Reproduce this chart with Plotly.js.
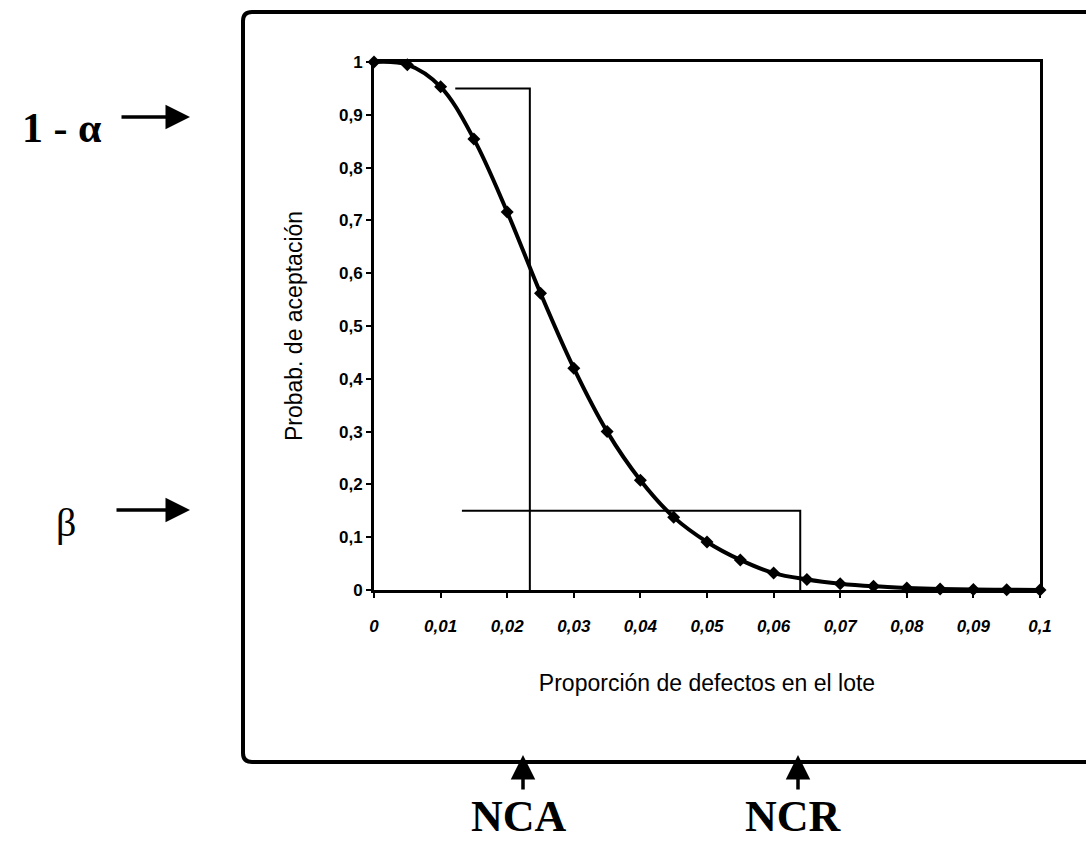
<!DOCTYPE html>
<html>
<head>
<meta charset="utf-8">
<script src="https://cdn.plot.ly/plotly-3.0.1.min.js"></script>
<style>
  html, body { margin: 0; padding: 0; background: #fff; }
  #chart { width: 1086px; height: 843px; }
</style>
</head>
<body>
<div id="chart"></div>
<script>
// Operating characteristic (OC) curve of a sampling plan
const defectFraction = [0, 0.005, 0.01, 0.015, 0.02, 0.025, 0.03, 0.035, 0.04, 0.045, 0.05,
                        0.055, 0.06, 0.065, 0.07, 0.075, 0.08, 0.085, 0.09, 0.095, 0.1];
const acceptProb     = [1, 0.995, 0.953, 0.854, 0.716, 0.562, 0.42, 0.30, 0.208, 0.138, 0.091,
                        0.057, 0.032, 0.02, 0.012, 0.007, 0.004, 0.002, 0.001, 0.0005, 0];

// Producer / consumer risk guides
const ncaGuideX = [0.0122, 0.0234, 0.0234];
const ncaGuideY = [0.95, 0.95, 0];
const ncrGuideX = [0.0132, 0.064, 0.064];
const ncrGuideY = [0.15, 0.15, 0];

const xTickVals = [0, 0.01, 0.02, 0.03, 0.04, 0.05, 0.06, 0.07, 0.08, 0.09, 0.1];
const yTickVals = [0, 0.1, 0.2, 0.3, 0.4, 0.5, 0.6, 0.7, 0.8, 0.9, 1];

// Plot-area geometry (pixels) used to place decorations outside the axes
const FIG_W = 1086, FIG_H = 843;
const L = 374, R = 1040, T = 62, B = 590;
const PW = R - L, PH = B - T;
const px = v => (v - L) / PW;
const py = v => (B - v) / PH;

const traces = [
  { x: ncaGuideX, y: ncaGuideY, type: 'scatter', mode: 'lines',
    line: { color: '#000', width: 2 }, hoverinfo: 'skip', cliponaxis: false },
  { x: ncrGuideX, y: ncrGuideY, type: 'scatter', mode: 'lines',
    line: { color: '#000', width: 2 }, hoverinfo: 'skip', cliponaxis: false },
  { x: defectFraction, y: acceptProb, type: 'scatter', mode: 'lines+markers',
    line: { color: '#000', width: 4, shape: 'spline', smoothing: 1 },
    marker: { symbol: 'diamond', size: 10, color: '#000' },
    cliponaxis: false }
];

const serif = 'Liberation Serif, DejaVu Serif, serif';
const sans = 'Liberation Sans, Arial, sans-serif';

// rounded outer frame (paper coordinates)
const fx0 = px(243), fx1 = px(1096), fy0 = py(12), fy1 = py(762);
const rx = 9 / PW, ry = 9 / PH;
const framePath =
  `M ${fx0 + rx} ${fy0} L ${fx1} ${fy0} M ${fx1} ${fy1} L ${fx0 + rx} ${fy1} ` +
  `Q ${fx0} ${fy1} ${fx0} ${fy1 + ry} L ${fx0} ${fy0 - ry} Q ${fx0} ${fy0} ${fx0 + rx} ${fy0}`;

function arrow(tipX, tipY, dx, dy) {
  return { xref: 'paper', yref: 'paper', x: px(tipX), y: py(tipY), text: '',
           showarrow: true, arrowhead: 2, arrowsize: 1.4, arrowwidth: 3.5,
           arrowcolor: '#000', ax: dx, ay: dy, standoff: 0 };
}
function label(cx, cy, text, size, weight) {
  return { xref: 'paper', yref: 'paper', x: px(cx), y: py(cy), text: text,
           xanchor: 'center', yanchor: 'middle', showarrow: false,
           font: { family: serif, size: size, color: '#000', weight: weight } };
}

const layout = {
  width: FIG_W, height: FIG_H,
  margin: { l: L, r: FIG_W - R, t: T, b: FIG_H - B, pad: 0 },
  paper_bgcolor: '#fff', plot_bgcolor: '#fff',
  showlegend: false,
  separators: ',.',
  xaxis: {
    range: [0, 0.1], tickvals: xTickVals, showgrid: false, zeroline: false,
    showline: true, linecolor: '#000', linewidth: 3, mirror: true,
    ticks: 'outside', ticklen: 5, tickwidth: 2, tickcolor: '#000',
    ticklabelstandoff: 14,
    tickfont: { family: sans, size: 17, color: '#000', weight: 'bold', style: 'italic' },
    title: { text: 'Proporción de defectos en el lote', standoff: 40,
             font: { family: sans, size: 23, color: '#000' } },
    automargin: false
  },
  yaxis: {
    range: [0, 1], tickvals: yTickVals, showgrid: false, zeroline: false,
    showline: true, linecolor: '#000', linewidth: 3, mirror: true,
    ticks: 'outside', ticklen: 5, tickwidth: 2, tickcolor: '#000',
    tickfont: { family: sans, size: 17, color: '#000', weight: 'bold' },
    title: { text: 'Probab. de aceptación', standoff: 30,
             font: { family: sans, size: 23, color: '#000' } },
    automargin: false
  },
  shapes: [
    { type: 'path', xref: 'paper', yref: 'paper', path: framePath,
      line: { color: '#000', width: 4 } }
  ],
  annotations: [
    label(62, 128, '1 - α', 42, 'bold'),
    arrow(190, 117, -70, 0),
    label(66, 522, 'β', 40, 'normal'),
    arrow(190, 510, -75, 0),
    arrow(523, 755, 0, 36),
    arrow(798, 755, 0, 36),
    label(519, 816, 'NCA', 44, 'bold'),
    label(793, 816, 'NCR', 44, 'bold')
  ]
};

Plotly.newPlot('chart', traces, layout, { staticPlot: true, displayModeBar: false });
</script>
</body>
</html>
